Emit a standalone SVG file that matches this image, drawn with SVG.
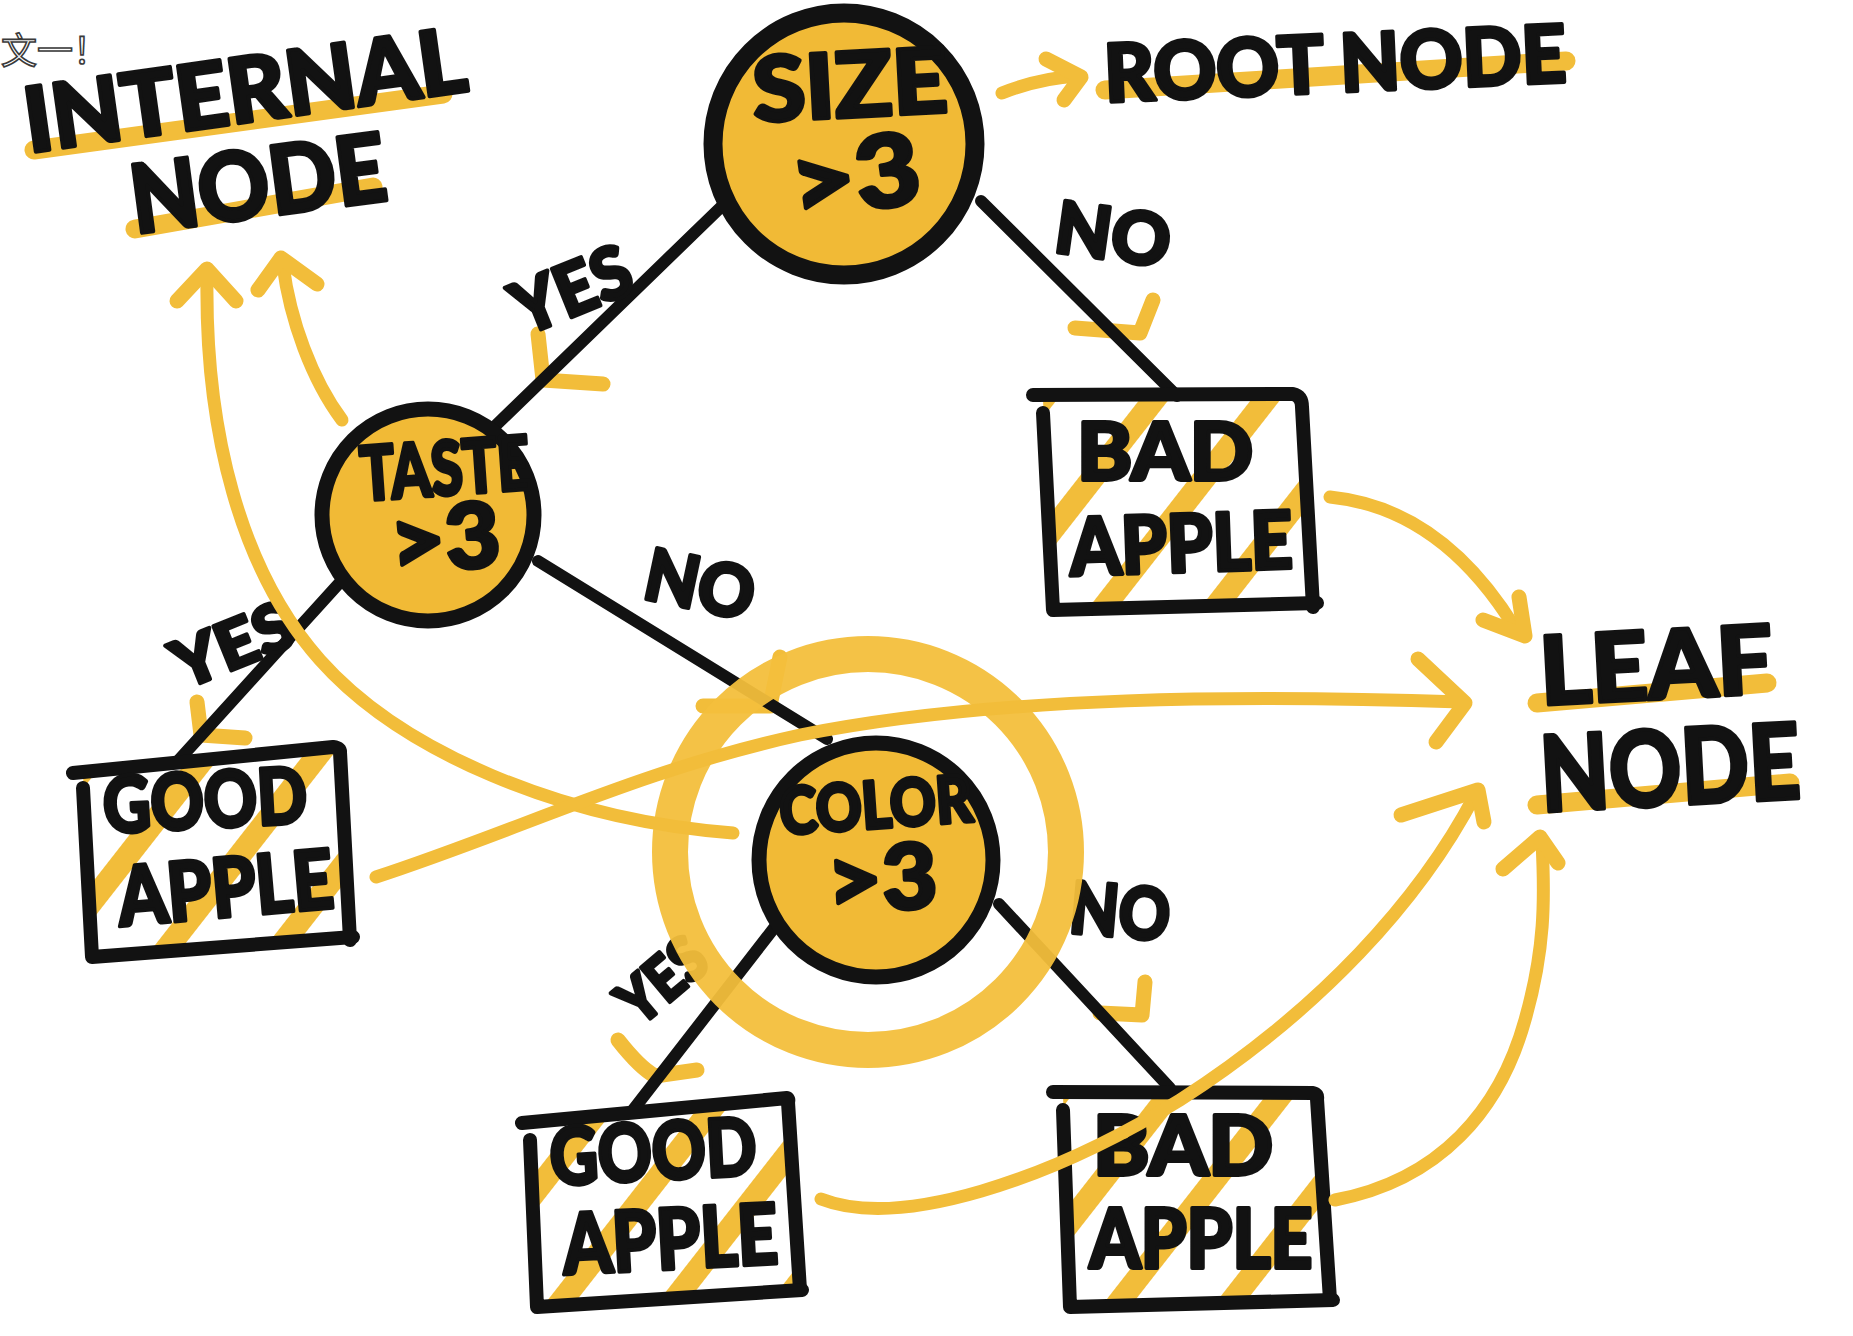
<svg xmlns="http://www.w3.org/2000/svg" width="1853" height="1336" viewBox="0 0 1853 1336">
<style>
.bg{fill:#ffffff}
.ink{fill:none;stroke:#121212;stroke-width:12;stroke-linecap:round;stroke-linejoin:round}
.box{fill:none;stroke:#121212;stroke-width:14;stroke-linecap:round;stroke-linejoin:round}
.hatch{fill:url(#hatch);stroke:none}
.ycurve{fill:none;stroke:#F2BD3A;stroke-width:13;stroke-linecap:round;stroke-linejoin:round}
.ychev{fill:none;stroke:#F2BD3A;stroke-width:15;stroke-linecap:round;stroke-linejoin:round}
.uline{fill:none;stroke:#F2BD3A;stroke-width:19;stroke-linecap:round}
.disc{fill:#F1BA36;stroke:#121212}
.ring{fill:none;stroke:#F3BF3C;stroke-width:36;opacity:0.95}
.t{font-family:Lato,"DejaVu Sans","Liberation Sans",sans-serif;font-weight:900;fill:#121212;stroke:#121212;stroke-width:4;stroke-linejoin:round;text-anchor:middle}
.wm{font-family:"Noto Sans CJK SC","Noto Sans",sans-serif;fill:#ffffff;stroke:#3a3a3a;stroke-width:1.6;font-size:36px}
</style>
<defs>
<pattern id="hatch" patternUnits="userSpaceOnUse" width="88" height="88" patternTransform="rotate(38)">
<rect x="0" y="0" width="23" height="88" fill="#F2BD3A"/>
</pattern>
</defs>
<rect class="bg" x="0" y="0" width="1853" height="1336"/>

<g id="watermark">
<text class="wm" x="1" y="64">文一！</text>
</g>

<g id="chevrons">
<path class="ychev" d="M538,334 L543,380 L603,384"/>
<path class="ychev" d="M1153,300 L1140,333 L1075,328"/>
<path class="ychev" d="M197,702 L201,735 L245,738"/>
<path class="ychev" d="M780,657 L770,706 L703,706"/>
<path class="ychev" d="M618,1040 Q640,1068 655,1076 L697,1070"/>
<path class="ychev" d="M1145,982 L1142,1015 L1100,1013"/>
</g>

<g id="connectors">
<line class="ink" x1="721" y1="207" x2="490" y2="431"/>
<line class="ink" x1="981" y1="201" x2="1177" y2="396"/>
<line class="ink" x1="343" y1="579" x2="177" y2="762"/>
<line class="ink" x1="538" y1="561" x2="827" y2="739"/>
<line class="ink" x1="774" y1="928" x2="633" y2="1110"/>
<line class="ink" x1="999" y1="904" x2="1170" y2="1088"/>
</g>

<g id="labels">
<text class="t" font-size="72" textLength="122" lengthAdjust="spacingAndGlyphs" x="572" y="315" transform="rotate(-22 572 290)">YES</text>
<text class="t" font-size="72" textLength="115" lengthAdjust="spacingAndGlyphs" x="1113" y="260" transform="rotate(8 1113 235)">NO</text>
<text class="t" font-size="66" textLength="125" lengthAdjust="spacingAndGlyphs" x="233" y="668" transform="rotate(-22 233 645)">YES</text>
<text class="t" font-size="72" textLength="110" lengthAdjust="spacingAndGlyphs" x="700" y="610" transform="rotate(12 700 585)">NO</text>
<text class="t" font-size="62" textLength="95" lengthAdjust="spacingAndGlyphs" x="662" y="1002" transform="rotate(-40 662 980)">YES</text>
<text class="t" font-size="72" textLength="100" lengthAdjust="spacingAndGlyphs" x="1120" y="937" transform="rotate(5 1120 912)">NO</text>
</g>

<g id="node-size">
<circle class="disc" cx="844" cy="144" r="131" stroke-width="19"/>
<text class="t" font-size="90" textLength="195" lengthAdjust="spacingAndGlyphs" x="850" y="117" transform="rotate(-3 850 85)">SIZE</text>
<text class="t" font-size="100" textLength="130" lengthAdjust="spacingAndGlyphs" x="855" y="211" transform="rotate(-8 855 175)">&gt;3</text>
</g>

<g id="node-taste">
<circle class="disc" cx="428" cy="515" r="106" stroke-width="15"/>
<text class="t" font-size="75" textLength="170" lengthAdjust="spacingAndGlyphs" x="445" y="495" transform="rotate(-4 445 468)">TASTE</text>
<text class="t" font-size="90" textLength="110" lengthAdjust="spacingAndGlyphs" x="445" y="570" transform="rotate(-5 445 538)">&gt;3</text>
</g>

<g id="node-color">
<circle class="disc" cx="876" cy="860" r="117" stroke-width="15"/>
<text class="t" font-size="65" textLength="193" lengthAdjust="spacingAndGlyphs" x="876" y="828" transform="rotate(-4 876 805)">COLOR</text>
<text class="t" font-size="90" textLength="110" lengthAdjust="spacingAndGlyphs" x="882" y="910" transform="rotate(-3 882 878)">&gt;3</text>
</g>

<g id="leaf-bad-1">
<polygon class="hatch" points="1043,400 1300,398 1310,605 1053,608"/>
<path class="box" d="M1033,395 L1293,394 Q1302,396 1302,407 L1313,607"/>
<path class="box" d="M1043,413 L1053,610 L1317,603"/>
<text class="t" font-size="80" textLength="176" lengthAdjust="spacingAndGlyphs" x="1165" y="480">BAD</text>
<text class="t" font-size="80" textLength="223" lengthAdjust="spacingAndGlyphs" x="1181" y="572" transform="rotate(-2 1181 541)">APPLE</text>
</g>

<g id="leaf-good-1">
<polygon class="hatch" points="83,775 338,750 348,937 92,955"/>
<path class="box" d="M73,773 L333,747 Q340,748 340,752 L350,940"/>
<path class="box" d="M83,788 L92,957 L353,937"/>
<text class="t" font-size="78" textLength="204" lengthAdjust="spacingAndGlyphs" x="205" y="828" transform="rotate(-3 205 800)">GOOD</text>
<text class="t" font-size="82" textLength="216" lengthAdjust="spacingAndGlyphs" x="225" y="917" transform="rotate(-5 225 885)">APPLE</text>
</g>

<g id="leaf-good-2">
<polygon class="hatch" points="530,1125 788,1100 800,1290 537,1305"/>
<path class="box" d="M522,1123 L787,1098 Q789,1099 788,1102 L800,1290"/>
<path class="box" d="M530,1140 L537,1307 L802,1290"/>
<text class="t" font-size="80" textLength="207" lengthAdjust="spacingAndGlyphs" x="653" y="1180" transform="rotate(-3 653 1151)">GOOD</text>
<text class="t" font-size="84" textLength="215" lengthAdjust="spacingAndGlyphs" x="670" y="1269" transform="rotate(-3 670 1236)">APPLE</text>
</g>

<g id="leaf-bad-2">
<polygon class="hatch" points="1063,1095 1315,1096 1328,1298 1070,1305"/>
<path class="box" d="M1053,1092 L1313,1093 Q1318,1094 1317,1099 L1330,1300"/>
<path class="box" d="M1063,1110 L1070,1307 L1333,1300"/>
<text class="t" font-size="82" textLength="180" lengthAdjust="spacingAndGlyphs" x="1183" y="1175">BAD</text>
<text class="t" font-size="82" textLength="223" lengthAdjust="spacingAndGlyphs" x="1201" y="1268">APPLE</text>
</g>

<g id="title-internal-node">
<path class="uline" d="M34,150 L443,94"/>
<path class="uline" d="M135,229 L373,187"/>
<text class="t" font-size="90" textLength="445" lengthAdjust="spacingAndGlyphs" x="245" y="122" transform="rotate(-8 245 90)">INTERNAL</text>
<text class="t" font-size="95" textLength="257" lengthAdjust="spacingAndGlyphs" x="258" y="217" transform="rotate(-7.6 258 183)">NODE</text>
</g>

<g id="title-root-node">
<path class="uline" d="M1105,90 L1566,61"/>
<text class="t" font-size="80" textLength="462" lengthAdjust="spacingAndGlyphs" x="1335" y="92" transform="rotate(-2.5 1335 63)">ROOT NODE</text>
</g>

<g id="title-leaf-node">
<path class="uline" d="M1537,703 L1767,683"/>
<path class="uline" d="M1537,805 L1790,783"/>
<text class="t" font-size="95" textLength="233" lengthAdjust="spacingAndGlyphs" x="1656" y="699" transform="rotate(-3 1656 665)">LEAF</text>
<text class="t" font-size="105" textLength="260" lengthAdjust="spacingAndGlyphs" x="1670" y="805" transform="rotate(-3 1670 767)">NODE</text>
</g>

<g id="highlight-ring">
<circle class="ring" cx="868" cy="852" r="198"/>
</g>

<g id="annotation-arrows">
<path class="ycurve" d="M733,833 C560,820 400,750 320,660 C240,570 205,430 207,278"/>
<path class="ychev" d="M177,301 L207,269 L236,301"/>
<path class="ycurve" d="M342,420 C312,380 290,320 283,265"/>
<path class="ychev" d="M258,290 L281,258 L317,284"/>
<path class="ycurve" d="M1002,93 Q1040,78 1078,76"/>
<path class="ychev" d="M1046,59 L1081,77 L1064,100"/>
<path class="ycurve" d="M1330,497 C1410,505 1470,555 1515,628"/>
<path class="ychev" d="M1483,620 L1525,636 L1519,597"/>
<path class="ycurve" d="M376,877 C520,830 640,770 800,735 C1000,695 1250,695 1462,702"/>
<path class="ychev" d="M1418,659 L1465,703 L1436,742"/>
<path class="ycurve" d="M821,1199 C900,1230 1050,1180 1180,1100 C1320,1010 1420,900 1475,795"/>
<path class="ychev" d="M1401,815 L1478,790 L1484,822"/>
<path class="ycurve" d="M1335,1200 C1440,1180 1500,1110 1525,1020 C1545,950 1545,900 1542,842"/>
<path class="ychev" d="M1503,869 L1540,837 L1558,863"/>
</g>
</svg>
